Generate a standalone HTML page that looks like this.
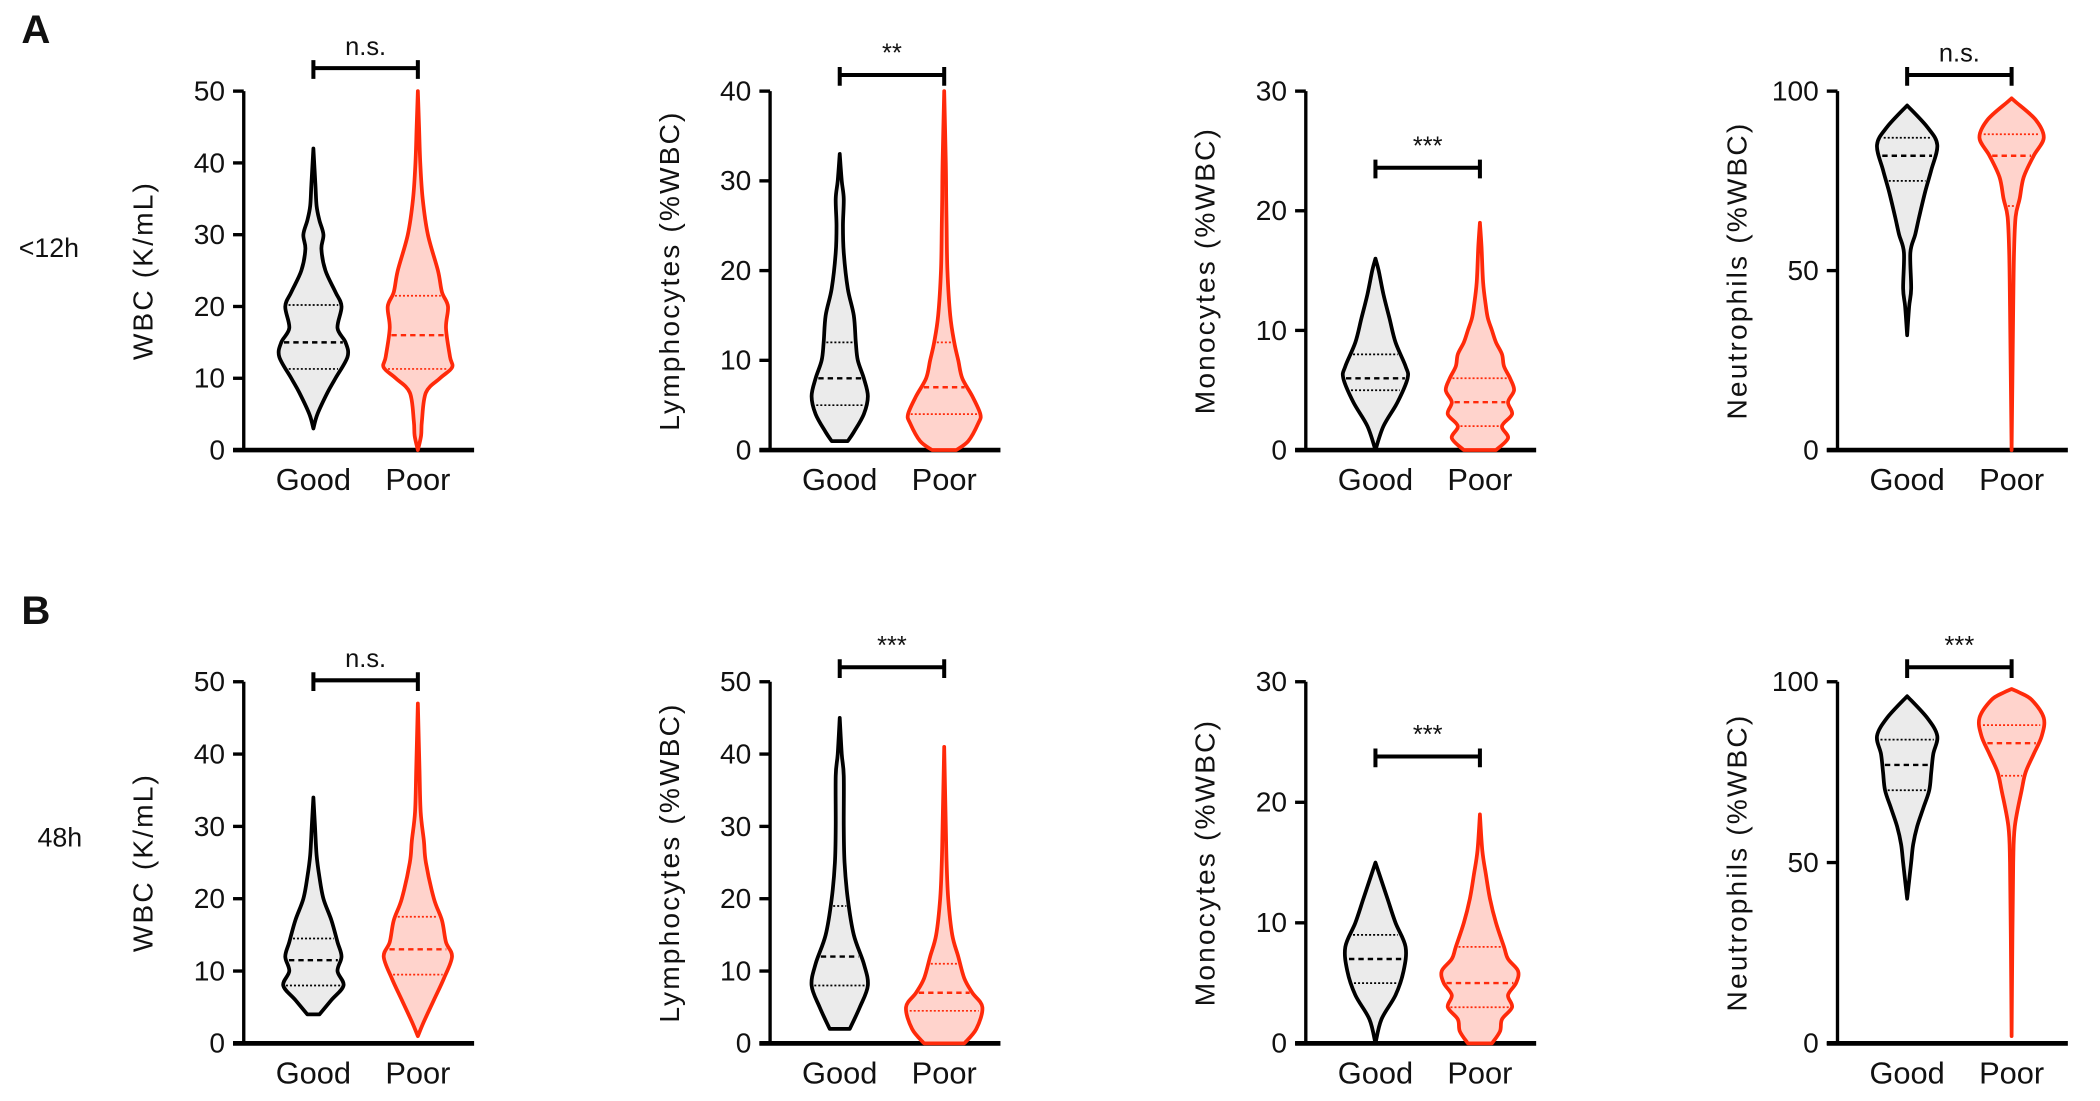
<!DOCTYPE html>
<html><head><meta charset="utf-8">
<style>
html,body{margin:0;padding:0;background:#fff;}
svg{display:block;}
text{font-family:"Liberation Sans Narrow","Liberation Sans",sans-serif;fill:#111;}
</style></head>
<body>
<svg id="fig" width="2100" height="1101" viewBox="0 0 1568 822" xmlns="http://www.w3.org/2000/svg">
<text x="16" y="32" font-size="30" font-weight="bold">A</text>
<text x="16" y="466" font-size="30" font-weight="bold">B</text>
<text x="14" y="192" font-size="20">&lt;12h</text>
<text x="28" y="632" font-size="20">48h</text>
</svg>
<script>
// ---- data ----
const panelTitles = ["WBC (K/mL)","Lymphocytes (%WBC)","Monocytes (%WBC)","Neutrophils (%WBC)"];
const categories = ["Good","Poor"];
const yMaxA = [50,40,30,100];
const yMaxB = [50,50,30,100];
const tickStepA = [10,10,10,50];
const tickStepB = [10,10,10,50];
const sigA = ["n.s.","**","***","n.s."];
const sigB = ["n.s.","***","***","***"];
const bracketValA = [53.2,41.8,23.6,104.5];
const bracketValB = [50.2,52,23.8,104];

// violin profiles: values (y) and relative density (half-width)
const a1GoodVals=[3,5,8,10,13,15,17,20,22,25,28,30,32,34,37,42];
const a1GoodDens=[0,0.1,0.35,0.55,0.85,0.8,0.6,0.7,0.55,0.3,0.2,0.25,0.15,0.08,0.05,0];
const a1PoorVals=[0,2,4,8,10,11.5,13,17,20,22,25,30,35,40,45,50];
const a1PoorDens=[0,0.08,0.1,0.2,0.55,0.85,0.8,0.7,0.75,0.6,0.5,0.25,0.12,0.06,0.03,0];
const a2GoodVals=[1,2,4,6,8,10,12,15,18,22,25,28,30,33];
const a2GoodDens=[0.2,0.35,0.6,0.7,0.6,0.45,0.4,0.35,0.2,0.1,0.08,0.1,0.05,0];
const a2PoorVals=[0,1,3,4,6,8,10,12,15,20,25,28,32,40];
const a2PoorDens=[0.3,0.6,0.85,0.9,0.7,0.45,0.35,0.25,0.15,0.08,0.06,0.05,0.04,0];
const a3GoodVals=[0,2,4,6,7,9,11,13,15,16];
const a3GoodDens=[0,0.2,0.55,0.8,0.75,0.5,0.35,0.2,0.08,0];
const a3PoorVals=[0,1,2,3,4,5,6,7,8,9,10,11,12,14,17,19];
const a3PoorDens=[0.4,0.7,0.55,0.8,0.7,0.85,0.75,0.6,0.55,0.4,0.3,0.2,0.15,0.08,0.04,0];
const a4GoodVals=[32,40,45,55,60,65,72,78,85,90,96];
const a4GoodDens=[0,0.05,0.1,0.08,0.2,0.3,0.45,0.6,0.75,0.5,0];
const a4PoorVals=[0,20,40,55,65,70,76,82,87,92,97,98];
const a4PoorDens=[0,0.02,0.04,0.06,0.1,0.2,0.3,0.55,0.8,0.6,0.1,0];
const b1GoodVals=[4,6,8,10,12,14,17,20,23,26,30,34];
const b1GoodDens=[0.15,0.45,0.75,0.6,0.7,0.6,0.45,0.25,0.15,0.08,0.04,0];
const b1PoorVals=[1,3,6,9,12,14,17,20,25,28,32,38,47];
const b1PoorDens=[0,0.15,0.4,0.65,0.85,0.7,0.6,0.4,0.2,0.15,0.07,0.04,0];
const b2GoodVals=[2,5,8,11,15,20,25,30,37,40,45];
const b2GoodDens=[0.25,0.5,0.7,0.6,0.35,0.2,0.12,0.1,0.1,0.05,0];
const b2PoorVals=[0,2,5,7,9,12,15,20,25,30,41];
const b2PoorDens=[0.5,0.8,0.95,0.7,0.5,0.35,0.2,0.1,0.06,0.04,0];
const b3GoodVals=[0,2,4,6,8,10,12,14,15];
const b3GoodDens=[0,0.15,0.5,0.7,0.75,0.5,0.3,0.1,0];
const b3PoorVals=[0,1,2,3,4,5,6,7,8,10,12,14,16,19];
const b3PoorDens=[0.3,0.5,0.55,0.8,0.7,0.9,0.95,0.7,0.6,0.4,0.25,0.15,0.06,0];
const b4GoodVals=[40,45,50,55,60,65,70,75,80,85,90,96];
const b4GoodDens=[0,0.05,0.1,0.15,0.25,0.4,0.55,0.6,0.65,0.75,0.5,0];
const b4PoorVals=[2,30,50,60,70,75,80,85,90,95,97,98];
const b4PoorDens=[0,0.02,0.04,0.08,0.25,0.35,0.55,0.75,0.8,0.5,0.2,0];

// quartiles [q1, median, q3]
const a1GoodQ=[11.3,15,20.2], a1PoorQ=[11.3,16,21.5];
const a2GoodQ=[5,8,12], a2PoorQ=[4,7,12];
const a3GoodQ=[5,6,8], a3PoorQ=[2,4,6];
const a4GoodQ=[75,82,87], a4PoorQ=[68,82,88];
const b1GoodQ=[8,11.5,14.5], b1PoorQ=[9.5,13,17.5];
const b2GoodQ=[8,12,19], b2PoorQ=[4.5,7,11];
const b3GoodQ=[5,7,9], b3PoorQ=[3,5,8];
const b4GoodQ=[70,77,84], b4PoorQ=[74,83,88];

// ---- drawing ----
const NS="http://www.w3.org/2000/svg";
const svg=document.getElementById('fig');
function mk(tag,attrs,parent){const e=document.createElementNS(NS,tag);for(const k in attrs)e.setAttribute(k,attrs[k]);(parent||svg).appendChild(e);return e;}
const axisXs=[182,575,975,1372];
const rows=[
 {top:68,bot:336,ymax:yMaxA,step:tickStepA,sig:sigA,br:bracketValA,
  v:[[a1GoodVals,a1GoodDens,a1GoodQ,a1PoorVals,a1PoorDens,a1PoorQ],[a2GoodVals,a2GoodDens,a2GoodQ,a2PoorVals,a2PoorDens,a2PoorQ],[a3GoodVals,a3GoodDens,a3GoodQ,a3PoorVals,a3PoorDens,a3PoorQ],[a4GoodVals,a4GoodDens,a4GoodQ,a4PoorVals,a4PoorDens,a4PoorQ]]},
 {top:509,bot:779,ymax:yMaxB,step:tickStepB,sig:sigB,br:bracketValB,
  v:[[b1GoodVals,b1GoodDens,b1GoodQ,b1PoorVals,b1PoorDens,b1PoorQ],[b2GoodVals,b2GoodDens,b2GoodQ,b2PoorVals,b2PoorDens,b2PoorQ],[b3GoodVals,b3GoodDens,b3GoodQ,b3PoorVals,b3PoorDens,b3PoorQ],[b4GoodVals,b4GoodDens,b4GoodQ,b4PoorVals,b4PoorDens,b4PoorQ]]}
];
const W=30;
function smoothPath(pts){
  let d="M"+pts[0][0]+","+pts[0][1];
  for(let i=0;i<pts.length-1;i++){
    const p0=pts[Math.max(0,i-1)],p1=pts[i],p2=pts[i+1],p3=pts[Math.min(pts.length-1,i+2)];
    const c1=[p1[0]+(p2[0]-p0[0])/6,p1[1]+(p2[1]-p0[1])/6];
    const c2=[p2[0]-(p3[0]-p1[0])/6,p2[1]-(p3[1]-p1[1])/6];
    d+=" C"+c1[0].toFixed(2)+","+c1[1].toFixed(2)+" "+c2[0].toFixed(2)+","+c2[1].toFixed(2)+" "+p2[0].toFixed(2)+","+p2[1].toFixed(2);
  }
  return d;
}
function interp(vals,dens,y){
  for(let i=0;i<vals.length-1;i++){if(y>=vals[i]&&y<=vals[i+1]){const t=(y-vals[i])/(vals[i+1]-vals[i]||1);return dens[i]+t*(dens[i+1]-dens[i]);}}
  return 0;
}
rows.forEach((row,ri)=>{
  axisXs.forEach((ax,pi)=>{
    const ymax=row.ymax[pi];
    const ys=v=>row.bot-(v/ymax)*(row.bot-row.top);
    const g=mk('g',{});
    
    
    const ya=mk('line',{x1:ax,y1:row.top,x2:ax,y2:row.bot,stroke:'#000','stroke-width':2.5},g);
    
    
    const xa=mk('line',{x1:ax-8,y1:row.bot,x2:ax+172,y2:row.bot,stroke:'#000','stroke-width':3.5},g);
    
    
    for(let t=0;t<=ymax;t+=row.step[pi]){
      const y=ys(t);
      mk('line',{x1:ax-8,y1:y,x2:ax,y2:y,stroke:'#000','stroke-width':2.5},g);
      const tl=mk('text',{x:ax-14,y:y+7,'font-size':21,'text-anchor':'end'},g);
      tl.textContent=t;
      
      
    }
    const cy=(row.top+row.bot)/2;
    const tt=mk('text',{x:0,y:0,'font-size':21,'letter-spacing':1.6,'text-anchor':'middle','font-family':'Liberation Sans, sans-serif',transform:'translate('+(ax-68)+','+cy+') rotate(-90)'},g);
    tt.textContent=panelTitles[pi];
    
    
    const vd=row.v[pi];
    [0,1].forEach(k=>{
      const cx=ax+52+k*78;
      const vals=vd[k*3],dens=vd[k*3+1],q=vd[k*3+2];
      const col=k?'#ff2a0a':'#000',fill=k?'#ffd3cc':'#ebebeb';
      const right=vals.map((v,i)=>[cx+dens[i]*W,ys(v)]);
      const left=vals.map((v,i)=>[cx-dens[i]*W,ys(v)]).reverse();
      let d=smoothPath(right)+" L"+left[0][0]+","+left[0][1]+smoothPath(left).replace(/^M[^ ]+/,"")+" Z";
      const p=mk('path',{d:d,fill:fill,stroke:col,'stroke-width':2.8,'stroke-linejoin':'round'},g);
      
      
      q.forEach((qv,qi)=>{
        const hw=interp(vals,dens,qv)*W-2;
        const l=mk('line',{x1:cx-hw,y1:ys(qv),x2:cx+hw,y2:ys(qv),stroke:col,'stroke-width':qi===1?1.8:1.3,'stroke-dasharray':qi===1?'4,3':'1.5,1.5'},g);
        
        
      });
      const cl=mk('text',{x:cx,y:row.bot+30,'font-size':23,'text-anchor':'middle','font-family':'Liberation Sans, sans-serif'},g);
      cl.textContent=categories[k];
      
      
    });
    const by=ys(row.br[pi]);
    const x1=ax+52,x2=ax+130;
    const br=mk('path',{d:'M'+x1+','+(by+8)+' V'+(by-6)+' M'+x1+','+by+' H'+x2+' M'+x2+','+(by+8)+' V'+(by-6),stroke:'#000','stroke-width':3,fill:'none'},g);
    
    
    const st=mk('text',{x:(x1+x2)/2,y:by-10,'font-size':19,'text-anchor':'middle'},g);
    st.textContent=row.sig[pi];
    
    
  });
});
</script>
</body></html>
